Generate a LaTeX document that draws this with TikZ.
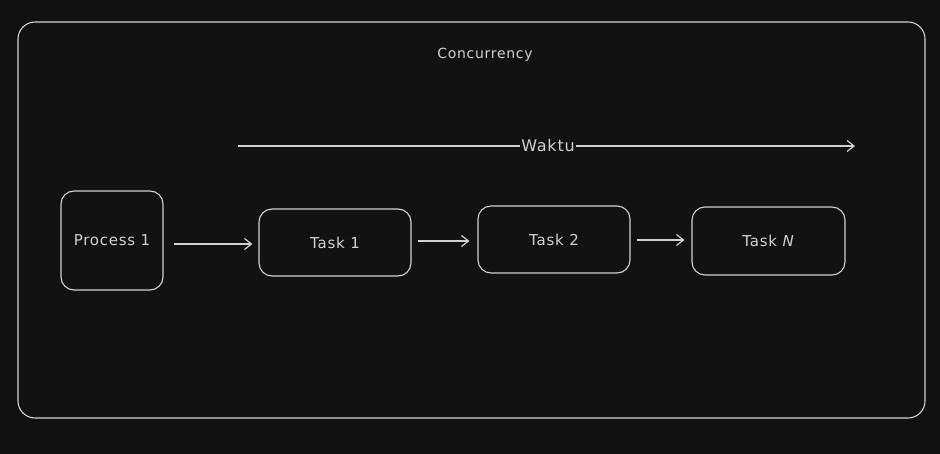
\documentclass[tikz,border=0pt]{standalone}
\usepackage{fontspec}
\setmainfont[LetterSpace=5]{DejaVu Sans}
\usetikzlibrary{calc,positioning,arrows.meta,backgrounds}
\definecolor{bg}{HTML}{121212}
\definecolor{ink}{HTML}{D2D2D2}

\begin{document}
\begin{tikzpicture}[x=1pt,y=-1pt,
  block/.style={
    draw=ink,
    line width=1.1pt,
    rectangle,
    rounded corners=13pt,
    align=center,
    text=ink,
    font=\fontsize{15}{17}\selectfont},
  arr/.style={draw=ink, line width=1.2pt, -{Straight Barb[length=7pt,width=11pt]}},
  ]

  \fill[bg] (0,0) rectangle (940,454);
  \useasboundingbox (0,0) rectangle (940,454);

  \draw[ink, line width=1.1pt, rounded corners=17pt] (18,22) rectangle (925,418);
  \node (Title) [text=ink, font=\fontsize{14}{16}\selectfont] at(485,55) {Concurrency};

  \coordinate (TimeStart) at(238,146);
  \coordinate (TimeEnd) at(855,146);
  \draw[arr] (TimeStart) -- (TimeEnd);
  \node (Waktu) [fill=bg, text=ink, inner xsep=1pt, font=\fontsize{16}{18}\selectfont] at(548,146) {Waktu};

  \node (Proc) [block, minimum width=102pt, minimum height=99pt] at(112,240.5) {Process 1};
  \node (TaskA) [block, minimum width=152pt, minimum height=67pt] at(335,242.5) {Task 1};
  \node (TaskB) [block, minimum width=152pt, minimum height=67pt] at(554,239.5) {Task 2};
  \node (TaskN) [block, minimum width=153pt, minimum height=68pt] at(768.5,241) {Task \textit{N}};

  \draw[arr] ($(Proc.east)+(10,3.5)$) -- ($(TaskA.west)+(-6,1.5)$);
  \draw[arr] ($(TaskA.east)+(6,-1.5)$) -- ($(TaskB.west)+(-8,1.5)$);
  \draw[arr] ($(TaskB.east)+(6,0.5)$) -- ($(TaskN.west)+(-7,-1)$);

\end{tikzpicture}
\end{document}
